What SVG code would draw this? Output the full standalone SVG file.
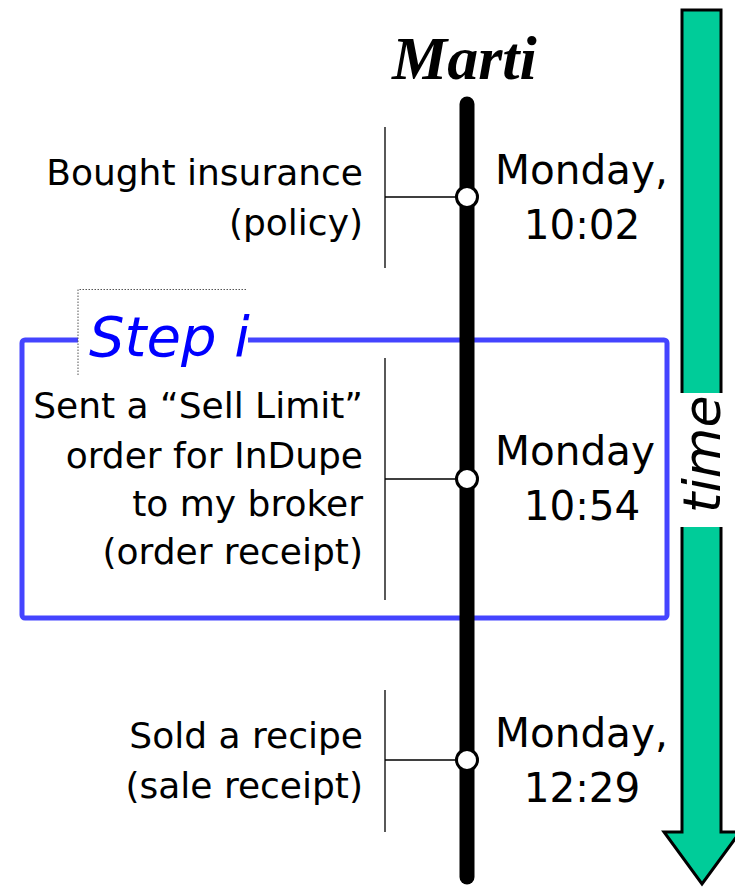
<svg xmlns="http://www.w3.org/2000/svg" width="735" height="887" viewBox="0 0 735 887">
  <style>
    .lbl { font-family: "DejaVu Sans", "Liberation Sans", sans-serif; font-size: 36px; fill: #000; text-anchor: end; }
    .when { font-family: "DejaVu Sans", "Liberation Sans", sans-serif; font-size: 40.5px; fill: #000; }
    .tick { stroke: #000; stroke-width: 1.3; fill: none; }
    .dot { fill: #fff; stroke: #000; stroke-width: 3; }
  </style>
  <rect width="735" height="887" fill="#fff"/>

  <!-- time arrow -->
  <g id="time-arrow">
    <path d="M682,10 L721,10 L721,832 L740,832 L702,884 L664,832 L682,832 Z" fill="#00cc99" stroke="#000" stroke-width="3" stroke-linejoin="miter"/>
    <rect x="678" y="393" width="47" height="134" fill="#fff"/>
    <text transform="translate(720,513) rotate(-90)" font-family="DejaVu Sans, Liberation Sans, sans-serif" font-style="italic" font-size="52" fill="#000">time</text>
  </g>

  <!-- step box -->
  <g id="step-i">
    <rect x="22" y="340" width="645" height="278" rx="3" fill="none" stroke="#4444ff" stroke-width="5"/>
    <rect x="78" y="289" width="170" height="86" fill="#fff"/>
    <path d="M78,375 L78,289.5 L247,289.5" fill="none" stroke="#555" stroke-width="1" stroke-dasharray="1.5,1.5"/>
    <text x="89" y="356" font-family="DejaVu Sans, Liberation Sans, sans-serif" font-style="italic" font-size="56" fill="#0000ff">Step i</text>
  </g>

  <!-- lifeline -->
  <g id="lifeline">
    <text x="392" y="79" font-family="Liberation Serif, serif" font-weight="bold" font-style="italic" font-size="62" fill="#000">Marti</text>
    <line x1="467" y1="104" x2="467" y2="877" stroke="#000" stroke-width="15" stroke-linecap="round"/>
  </g>

  <!-- connectors from the event notes to the lifeline -->
  <g id="connectors">
    <path class="tick" d="M385,127 V268 M385,197 H460"/>
    <path class="tick" d="M385,358 V600 M385,479 H460"/>
    <path class="tick" d="M385,690 V832 M385,760 H460"/>
  </g>

  <g id="event-insurance">
    <circle class="dot" cx="467" cy="197" r="10.5"/>
    <text class="lbl" x="363" y="185">Bought insurance</text>
    <text class="lbl" x="363" y="235">(policy)</text>
    <text class="when" x="495" y="184">Monday,</text>
    <text class="when" x="582" y="239" text-anchor="middle">10:02</text>
  </g>

  <g id="event-order">
    <circle class="dot" cx="467" cy="479" r="10.5"/>
    <text class="lbl" x="363" y="418">Sent a “Sell Limit”</text>
    <text class="lbl" x="363" y="468">order for InDupe</text>
    <text class="lbl" x="363" y="516">to my broker</text>
    <text class="lbl" x="363" y="564">(order receipt)</text>
    <text class="when" x="495" y="465">Monday</text>
    <text class="when" x="582" y="520" text-anchor="middle">10:54</text>
  </g>

  <g id="event-sale">
    <circle class="dot" cx="467" cy="760" r="10.5"/>
    <text class="lbl" x="363" y="748">Sold a recipe</text>
    <text class="lbl" x="363" y="798">(sale receipt)</text>
    <text class="when" x="495" y="747">Monday,</text>
    <text class="when" x="582" y="802" text-anchor="middle">12:29</text>
  </g>
</svg>
